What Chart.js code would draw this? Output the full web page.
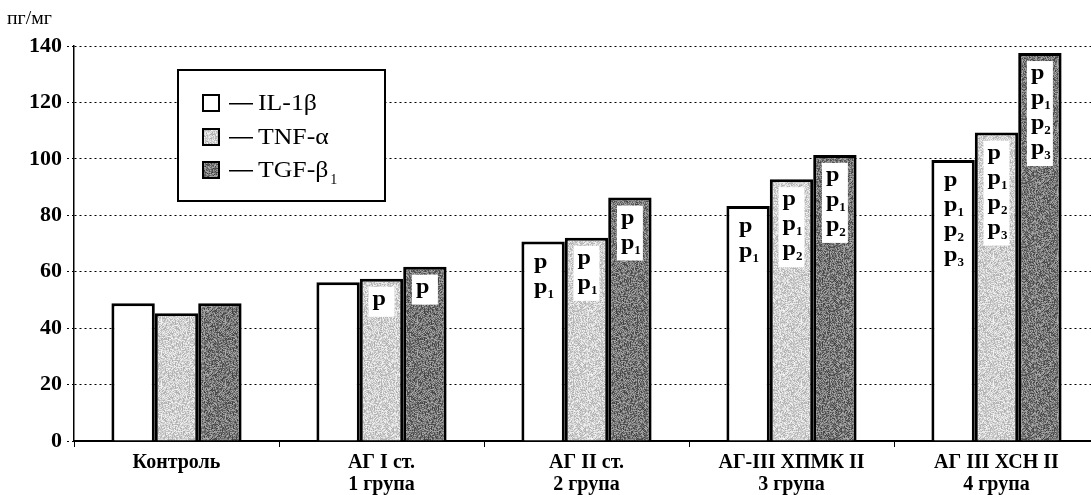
<!DOCTYPE html>
<html>
<head>
<meta charset="utf-8">
<script src="https://cdn.jsdelivr.net/npm/chart.js@4/dist/chart.umd.min.js"></script>
<style>
  html, body { margin: 0; padding: 0; background: #fff; overflow: hidden; }
  #wrap { width: 1110px; height: 495px; }
</style>
</head>
<body>
<div id="wrap"><canvas id="chart" width="1110" height="495"></canvas></div>
<script>
// categories and values (пг/мг)
const categories = [
  ['Контроль'],
  ['АГ I ст.', '1 група'],
  ['АГ II ст.', '2 група'],
  ['АГ-III ХПМК II', '3 група'],
  ['АГ III ХСН II', '4 група']
];
const seriesNames = ['IL-1β', 'TNF-α', 'TGF-β'];
const seriesSub = ['', '', '1'];
const il1b = [48.8, 56.3, 70.7, 83.3, 99.6];
const tnfa = [45.3, 57.5, 72.0, 92.8, 109.3];
const tgfb1 = [48.8, 61.8, 86.3, 101.4, 137.5];
// significance marks written inside each bar
const pIL = [[], [], ['p', 'p1'], ['p', 'p1'], ['p', 'p1', 'p2', 'p3']];
const pTNF = [[], ['p'], ['p', 'p1'], ['p', 'p1', 'p2'], ['p', 'p1', 'p2', 'p3']];
const pTGF = [[], ['p'], ['p', 'p1'], ['p', 'p1', 'p2'], ['p', 'p1', 'p2', 'p3']];
const yTicks = [0, 20, 40, 60, 80, 100, 120, 140];

const SERIF = '"Liberation Serif", "Times New Roman", serif';

// speckled grey fill, like the printed halftone
function speckle(base, spread) {
  const c = document.createElement('canvas');
  c.width = 64; c.height = 64;
  const g = c.getContext('2d');
  const img = g.createImageData(64, 64);
  for (let j = 0; j < 64; j++) {
    for (let i = 0; i < 64; i++) {
      const h = (((i * 73856093) ^ (j * 19349663) ^ (i * j * 83492791)) >>> 0) % 256;
      const v = Math.max(0, Math.min(255, base + (h / 255 - 0.5) * spread));
      const k = (j * 64 + i) * 4;
      img.data[k] = img.data[k + 1] = img.data[k + 2] = v;
      img.data[k + 3] = 255;
    }
  }
  g.putImageData(img, 0, 0);
  return g.createPattern(c, 'repeat');
}

// text a bit wider than the font, as in the scanned figure
function wideText(c, txt, x, y, sx) {
  c.save();
  c.translate(x, y);
  c.scale(sx, 1);
  c.fillText(txt, 0, 0);
  const w = c.measureText(txt).width * sx;
  c.restore();
  return w;
}

const ctx = document.getElementById('chart').getContext('2d');
const fills = ['#ffffff', speckle(208, 75), speckle(118, 115)];
const marks = [pIL, pTNF, pTGF];

const pLabels = {
  id: 'pLabels',
  afterDatasetsDraw(chart) {
    const c = chart.ctx;
    c.save();
    chart.data.datasets.forEach((ds, di) => {
      const meta = chart.getDatasetMeta(di);
      meta.data.forEach((bar, i) => {
        const lines = marks[di][i];
        if (!lines.length) return;
        const top = bar.y + 8;
        const h = lines.length * 25 + 5;
        c.fillStyle = '#fff';
        c.fillRect(bar.x - 13, top, 26, h);
        c.fillStyle = '#000';
        c.textBaseline = 'alphabetic';
        c.textAlign = 'left';
        lines.forEach((t, k) => {
          const bx = bar.x - 9;
          const by = top + 18 + k * 25;
          c.font = 'bold 22px ' + SERIF;
          const w = wideText(c, t[0], bx, by, 1.1);
          if (t.length > 1) {
            c.font = 'bold 13px ' + SERIF;
            c.fillText(t.slice(1), bx + w, by + 5);
          }
        });
      });
    });
    c.restore();
  }
};

const extras = {
  id: 'extras',
  afterDraw(chart) {
    const c = chart.ctx;
    c.save();
    // unit label
    c.fillStyle = '#000';
    c.font = '18px ' + SERIF;
    c.textAlign = 'left';
    c.textBaseline = 'middle';
    wideText(c, 'пг/мг', 7, 19, 1.1);
    // legend box
    c.fillStyle = '#fff';
    c.fillRect(178, 70, 207, 131);
    c.strokeStyle = '#000';
    c.lineWidth = 2;
    c.strokeRect(178, 70, 207, 131);
    const rows = [103, 137, 170];
    seriesNames.forEach((name, k) => {
      const y = rows[k];
      c.fillStyle = fills[k];
      c.fillRect(203, y - 8, 16, 16);
      c.lineWidth = 2;
      c.strokeRect(203, y - 8, 16, 16);
      c.fillStyle = '#000';
      c.fillRect(229, y, 24, 1.5);
      c.font = '23px ' + SERIF;
      c.textBaseline = 'middle';
      const w = wideText(c, name, 258, y + 1, 1.12);
      if (seriesSub[k]) {
        c.font = '14px ' + SERIF;
        c.fillText(seriesSub[k], 258 + w + 2, y + 10);
      }
    });
    c.restore();
  }
};

new Chart(ctx, {
  type: 'bar',
  data: {
    labels: categories,
    datasets: [il1b, tnfa, tgfb1].map((vals, k) => ({
      label: seriesNames[k] + seriesSub[k],
      data: vals,
      backgroundColor: fills[k],
      borderColor: '#000',
      borderWidth: 3,
      borderSkipped: 'start',
      categoryPercentage: 0.635,
      barPercentage: 1.0
    }))
  },
  options: {
    responsive: false,
    animation: false,
    devicePixelRatio: 1,
    layout: { padding: { top: 46, right: 11, left: 0, bottom: 0 } },
    plugins: {
      legend: { display: false },
      tooltip: { enabled: false }
    },
    scales: {
      x: {
        grid: {
          display: true,
          offset: true,
          drawOnChartArea: false,
          drawTicks: true,
          tickLength: 6,
          color: '#000',
          lineWidth: 1
        },
        border: { display: true, color: '#000', width: 2 },
        ticks: {
          color: '#000',
          padding: 5,
          maxRotation: 0,
          autoSkip: false,
          font: { family: SERIF, size: 20, weight: 'bold', lineHeight: 1.1 }
        },
        afterFit(s) { s.height = 54; }
      },
      y: {
        min: 0,
        max: 140,
        afterBuildTicks(s) { s.ticks = yTicks.map(v => ({ value: v })); },
        grid: {
          color: '#000',
          lineWidth: 1,
          tickLength: 7,
          drawTicks: true,
          tickBorderDash: [2, 3]
        },
        border: { display: true, color: '#000', width: 1.5, dash: [2, 3] },
        ticks: {
          color: '#000',
          padding: 5,
          font: { family: SERIF, size: 22, weight: 'bold' }
        },
        afterFit(s) { s.width = 74; }
      }
    }
  },
  plugins: [pLabels, extras]
});
</script>
</body>
</html>
